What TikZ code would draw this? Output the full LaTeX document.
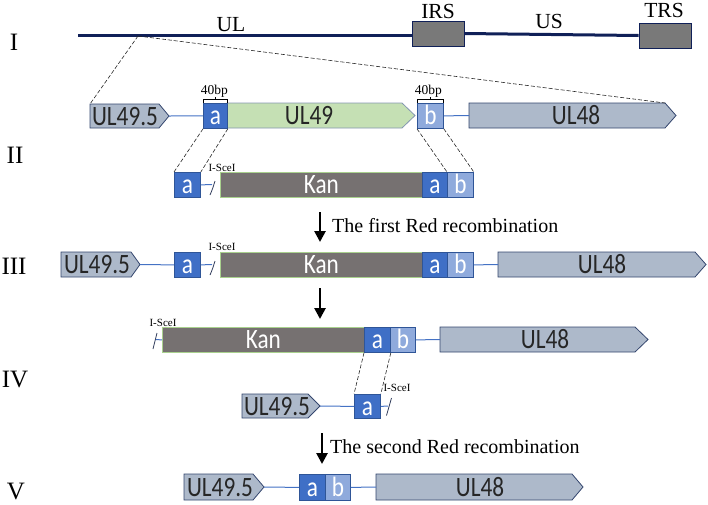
\documentclass[tikz,border=0pt]{standalone}
\usepackage{fontspec}
\setmainfont{Liberation Serif}
\newfontfamily\gf[FakeStretch=0.83]{Carlito}
\usetikzlibrary{arrows.meta}
\definecolor{navy}{RGB}{16,32,88}
\definecolor{boxgray}{RGB}{118,113,113}
\definecolor{genefill}{RGB}{173,185,202}
\definecolor{genedraw}{RGB}{52,70,110}
\definecolor{afill}{RGB}{63,111,198}
\definecolor{bfill}{RGB}{143,170,220}
\definecolor{abord}{RGB}{47,85,151}
\definecolor{greenfill}{RGB}{197,224,180}
\definecolor{greendraw}{RGB}{132,151,176}
\definecolor{kandraw}{RGB}{169,209,142}
\definecolor{connblue}{RGB}{68,114,196}
\definecolor{slashcol}{RGB}{47,59,90}
\newcommand{\pent}[9]{%
  \draw[#9] (#2,#5) -- (#3,#5) -- (#4,{(#5+#6)/2}) -- (#3,#6) -- (#2,#6) -- cycle;
  \coordinate (#1-nw) at (#2,#5);
  \coordinate (#1-ne) at (#3,#5);
  \coordinate (#1-w) at (#2,{(#5+#6)/2});
  \coordinate (#1-tip) at (#4,{(#5+#6)/2});
  \node[genetext] (#1) at (#7,{(#5+#6)/2}) {#8};}
\begin{document}
\begin{tikzpicture}[x=1pt,y=-1pt,
  genetext/.style={inner sep=0pt, text height=18pt, text depth=0pt, font=\gf\fontsize{28}{30}\selectfont, text=black!85},
  gene/.style={fill=genefill, draw=genedraw, line width=0.8pt},
  greengene/.style={fill=greenfill, draw=greendraw, line width=0.8pt},
  seg/.style={inner sep=0pt, minimum height=25pt, text height=18pt, text depth=0pt, font=\gf\fontsize{28}{30}\selectfont, text=white, anchor=north west, line width=0.8pt},
  abox/.style={seg, fill=afill, draw=abord},
  bbox/.style={seg, fill=bfill, draw=abord},
  kanbox/.style={seg, fill=boxgray, draw=kandraw},
  repbox/.style={inner sep=0pt, minimum height=25pt, minimum width=52pt, fill=gray!95!black, draw=navy, line width=0.8pt},
  conn/.style={draw=connblue, line width=1pt},
  dsh/.style={draw=black!85, line width=0.6pt, dash pattern=on 4pt off 2pt},
  slashline/.style={draw=slashcol, line width=0.8pt},
  brk/.style={draw=black, line width=1pt},
  bigarrow/.style={draw=black, line width=2.6pt, -{Triangle[length=11pt,width=11pt]}},
  roman/.style={font=\fontsize{25}{27}\selectfont, anchor=base, inner sep=0pt},
  reglbl/.style={font=\fontsize{21.5}{24}\selectfont, anchor=base, inner sep=0pt},
  steplbl/.style={font=\fontsize{20}{22}\selectfont, anchor=base west, inner sep=0pt},
  bplbl/.style={font=\fontsize{13.5}{15}\selectfont, anchor=base, inner sep=0pt},
  scelbl/.style={font=\fontsize{11}{12}\selectfont, anchor=base, inner sep=0pt}
]
\useasboundingbox (0,0) rectangle (708,504);

% ---------- row labels ----------
\node[roman] (rI) at (14,50) {I};
\node[roman] (rII) at (15,163) {II};
\node[roman] (rIII) at (14,274) {III};
\node[roman] (rIV) at (15,387) {IV};
\node[roman] (rV) at (16,499.5) {V};

% ---------- row I ----------
\node[repbox] (IRS) at (438,33.5) {};
\node[repbox] (TRS) at (665,35.5) {};
\coordinate (Istart) at (78,35);
\draw[navy, line width=3pt] (Istart) -- (Istart -| IRS.west);
\draw[navy, line width=3pt] (IRS.east) -- (TRS.west);
\node[reglbl] (ULl) at (231,31) {UL};
\node[reglbl] (IRSl) at (438,18) {IRS};
\node[reglbl] (USl) at (549,28) {US};
\node[reglbl] (TRSl) at (664,17) {TRS};
\coordinate (ulpt) at (138,36);

% ---------- row II (top) ----------
\pent{p2}{90}{159}{169}{104}{128}{125}{UL49.5}{gene}
\pent{g2}{227}{402}{415}{103}{128}{309}{UL49}{greengene}
\pent{q2}{469}{665}{676}{103}{128}{576}{UL48}{gene}
\node[abox, minimum width=24pt] (a2) at (203,103) {a};
\node[bbox, minimum width=26pt] (b2) at (417,103) {b};
\draw[conn] (p2-tip) -- (a2.west);
\draw[conn] (b2.east) -- (q2-w);
\draw[dsh] (ulpt) -- (p2-nw);
\draw[dsh] (ulpt) -- (q2-ne);
% 40bp brackets
\draw[brk] (a2.north west) -- ([yshift=3.5pt]a2.north west) -- ([yshift=3.5pt]a2.north east) -- (a2.north east);
\draw[brk] ([yshift=3.5pt]a2.north) -- ([yshift=6pt]a2.north);
\node[bplbl] (bp1) at ([yshift=8.5pt,xshift=-1pt]a2.north) {40bp};
\draw[brk] (b2.north west) -- ([yshift=3.5pt]b2.north west) -- ([yshift=3.5pt]b2.north east) -- (b2.north east);
\draw[brk] ([yshift=3.5pt]b2.north) -- ([yshift=6pt]b2.north);
\node[bplbl] (bp2) at ([yshift=9pt,xshift=-2pt]b2.north) {40bp};

% ---------- row II (bottom) ----------
\node[abox, minimum width=26pt] (a2l) at (174,172) {a};
\node[kanbox, minimum width=202pt] (k2) at (220,172) {Kan};
\node[abox, minimum width=25pt] (a2r) at (422,172) {a};
\node[bbox, minimum width=26pt] (b2r) at (447,172) {b};
\coordinate (s2) at (212,184.5);
\draw[conn] (a2l.east) -- (s2);
\draw[slashline] (210,195) .. controls (212.5,189) .. (215,181);
\node[scelbl] (sce2) at (222,171.5) {I-SceI};
\draw[dsh] (a2.south west) -- (a2l.north west);
\draw[dsh] (a2.south east) -- (a2l.north east);
\draw[dsh] (b2.south west) -- (b2r.north west);
\draw[dsh] (b2.south east) -- (b2r.north east);

% ---------- arrow 1 ----------
\coordinate (ar1s) at (320,212);
\coordinate (ar1e) at (320,242);
\draw[bigarrow] (ar1s) -- (ar1e);
\node[steplbl] (st1) at (332,232) {The first Red recombination};

% ---------- row III ----------
\pent{p3}{61}{131}{140}{252}{277}{97}{UL49.5}{gene}
\pent{q3}{498}{695}{706}{252}{277}{602}{UL48}{gene}
\node[abox, minimum width=26pt] (a3) at (174,252) {a};
\node[kanbox, minimum width=202pt] (k3) at (220,252) {Kan};
\node[abox, minimum width=25pt] (a3r) at (422,252) {a};
\node[bbox, minimum width=26pt] (b3r) at (447,252) {b};
\coordinate (s3) at (212,264.5);
\draw[conn] (p3-tip) -- (a3.west);
\draw[conn] (a3.east) -- (s3);
\draw[conn] (b3r.east) -- (q3-w);
\draw[slashline] (210,275) .. controls (212.5,269) .. (215,261);
\node[scelbl] (sce3) at (222,250) {I-SceI};

% ---------- arrow 2 ----------
\coordinate (ar2s) at (320,288);
\coordinate (ar2e) at (320,319);
\draw[bigarrow] (ar2s) -- (ar2e);

% ---------- row IV (top) ----------
\pent{q4}{440}{635}{648}{327}{352}{545}{UL48}{gene}
\node[kanbox, minimum width=202pt] (k4) at (162,327) {Kan};
\node[abox, minimum width=26pt] (a4) at (364,327) {a};
\node[bbox, minimum width=25pt] (b4) at (390,327) {b};
\draw[conn] (b4.east) -- (q4-w);
\coordinate (s4) at (155.5,339.5);
\draw[conn] (s4) -- (k4.west);
\draw[slashline] (153,349) .. controls (154.5,341) .. (157,333);
\node[scelbl] (sce4) at (163,326) {I-SceI};

% ---------- row IV (bottom) ----------
\pent{p4}{242}{308}{320}{394}{418}{277}{UL49.5}{gene}
\node[abox, minimum width=26pt, minimum height=24pt] (a4l) at (354,394) {a};
\coordinate (s4b) at (388,406);
\draw[conn] (p4-tip) -- (a4l.west);
\draw[conn] (a4l.east) -- (s4b);
\draw[slashline] (386.5,415.5) .. controls (388.5,407) .. (391.5,398);
\node[scelbl] (sce4b) at (397,391) {I-SceI};
\draw[dsh] (a4.south west) -- (a4l.north west);
\draw[dsh] (a4.south east) -- (a4l.north east);

% ---------- arrow 3 ----------
\coordinate (ar3s) at (322,433);
\coordinate (ar3e) at (322,464);
\draw[bigarrow] (ar3s) -- (ar3e);
\node[steplbl] (st2) at (330,453) {The second Red recombination};

% ---------- row V ----------
\pent{p5}{184}{253}{264}{474}{500}{220}{UL49.5}{gene}
\pent{q5}{376}{572}{583}{474}{500}{480}{UL48}{gene}
\node[abox, minimum width=26pt, minimum height=26pt] (a5) at (299,474) {a};
\node[bbox, minimum width=25pt, minimum height=26pt] (b5) at (325,474) {b};
\draw[conn] (p5-tip) -- (a5.west);
\draw[conn] (b5.east) -- (q5-w);
\end{tikzpicture}
\end{document}
